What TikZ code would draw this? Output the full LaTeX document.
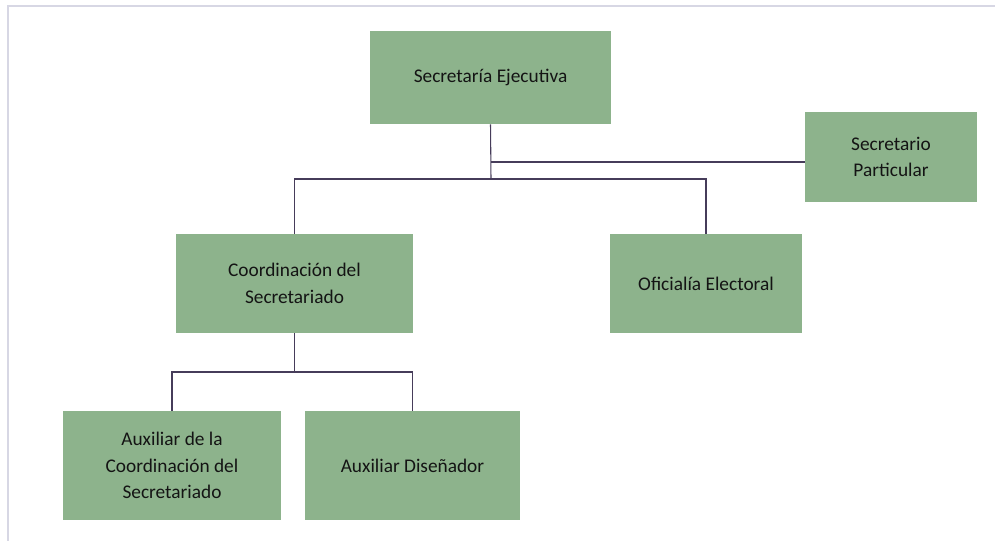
\documentclass[tikz,border=0pt]{standalone}
\usepackage{fontspec}
\setmainfont{Carlito}
\definecolor{boxgreen}{RGB}{141,179,140}
\definecolor{linecol}{RGB}{70,60,90}
\definecolor{framecol}{RGB}{215,215,228}
\definecolor{txtcol}{RGB}{20,20,20}
\begin{document}
\begin{tikzpicture}[x=0.75pt,y=-0.75pt,
  orgbox/.style={fill=boxgreen,draw=none,inner sep=2pt,align=center,
    font=\fontsize{14.5}{20}\selectfont,text=txtcol},
  conn/.style={draw=linecol,line width=0.8pt}]
\useasboundingbox (0,0) rectangle (995,540);
\fill[white] (0,0) rectangle (995,540);
\draw[framecol,line width=0.9pt] (8,545) -- (8,6) -- (1000,6);
\node[orgbox,minimum width=241*0.75pt,minimum height=93*0.75pt] (SE) at (490.5,77.5) {Secretaría Ejecutiva};
\node[orgbox,minimum width=172*0.75pt,minimum height=90*0.75pt] (SP) at (891,157) {Secretario\\Particular};
\node[orgbox,minimum width=237*0.75pt,minimum height=99*0.75pt] (CS) at (294.5,283.5) {Coordinación del\\Secretariado};
\node[orgbox,minimum width=192*0.75pt,minimum height=99*0.75pt] (OE) at (706,283.5) {Oficialía Electoral};
\node[orgbox,minimum width=218*0.75pt,minimum height=109*0.75pt] (AC) at (172,465.5) {Auxiliar de la\\Coordinación del\\Secretariado};
\node[orgbox,minimum width=215*0.75pt,minimum height=109*0.75pt] (AD) at (412.5,465.5) {Auxiliar Diseñador};
\coordinate (j0) at (491,162);
\coordinate (j1) at (491,179);
\coordinate (j2) at (294.5,372);
\draw[conn] (SE.south) -- (j1);
\draw[conn] (CS.north) |- (j1) -| (OE.north);
\draw[conn] (j0) -- (j0 -| SP.west);
\draw[conn] (CS.south) -- (j2);
\draw[conn] (AC.north) |- (j2) -| (AD.north);
\end{tikzpicture}
\end{document}
